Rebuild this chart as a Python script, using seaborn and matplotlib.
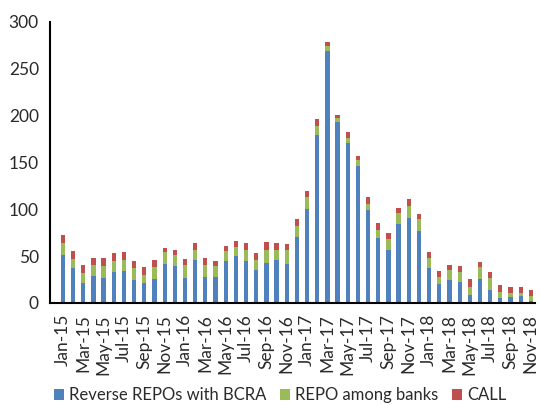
import numpy as np
import pandas as pd
import matplotlib
matplotlib.use("Agg")
import matplotlib.pyplot as plt
from matplotlib.patches import Patch
import seaborn as sns

months = ["Jan-15", "Feb-15", "Mar-15", "Apr-15", "May-15", "Jun-15", "Jul-15", "Aug-15",
          "Sep-15", "Oct-15", "Nov-15", "Dec-15",
          "Jan-16", "Feb-16", "Mar-16", "Apr-16", "May-16", "Jun-16", "Jul-16", "Aug-16",
          "Sep-16", "Oct-16", "Nov-16", "Dec-16",
          "Jan-17", "Feb-17", "Mar-17", "Apr-17", "May-17", "Jun-17", "Jul-17", "Aug-17",
          "Sep-17", "Oct-17", "Nov-17", "Dec-17",
          "Jan-18", "Feb-18", "Mar-18", "Apr-18", "May-18", "Jun-18", "Jul-18", "Aug-18",
          "Sep-18", "Oct-18", "Nov-18"]

reverse_repo_bcra = [51, 37, 21, 29, 27, 33, 34, 25, 21, 26, 42, 39,
                     27, 46, 28, 28, 45, 50, 45, 35, 43, 46, 42, 70,
                     100, 179, 269, 193, 171, 146, 99, 69, 56, 84, 91, 77,
                     37.5, 20, 25, 22.5, 8, 26, 14, 5, 6, 7, 2.5]
repo_among_banks = [13, 10, 11, 11, 12, 12, 12, 12, 9, 12, 12, 12,
                    13, 11, 12, 11, 10, 10, 12, 11, 14, 11, 14, 12,
                    13, 10, 5, 4, 5, 7, 7, 9, 12, 12, 13, 13,
                    11, 8, 10, 10, 9, 12, 13, 7, 5, 4, 5]
call = [9, 8, 8, 8, 9, 8, 8, 7.5, 8, 8, 5, 6,
        6.5, 7, 8, 6, 6, 6, 7, 7, 8, 7, 7, 8,
        6, 7, 4, 4, 6, 4, 7, 7, 7, 5, 7, 5,
        6, 6, 5, 7, 9, 6, 6, 7, 6, 6, 6]

series_names = ["Reverse REPOs with BCRA", "REPO among banks", "CALL"]
colors = ["#4F81BD", "#9BBB59", "#C0504D"]

df = pd.DataFrame({"month": months, "blue": reverse_repo_bcra,
                   "green": repo_among_banks, "red": call})
df["bg"] = df["blue"] + df["green"]
df["total"] = df["bg"] + df["red"]

sns.set_style("white")
plt.rcParams["font.family"] = ["Lato", "DejaVu Sans"]
text_color = "#2a2a2a"

fig = plt.figure(figsize=(5.4, 4.05), dpi=100)
ax = fig.add_axes([0.0926, 0.252, 0.898, 0.694])

for col, c in zip(["total", "bg", "blue"], [colors[2], colors[1], colors[0]]):
    sns.barplot(data=df, x="month", y=col, color=c, width=0.42, saturation=1,
                errorbar=None, ax=ax, linewidth=0)

ax.set_xlim(-1.27, 46.4)
ax.set_ylim(0, 300)
ax.set_yticks(np.arange(0, 301, 50))
ax.set_xlabel("")
ax.set_ylabel("")

pos = np.arange(len(months))
ax.set_xticks(pos[::2])
ax.set_xticklabels(months[::2], rotation=90, fontsize=12.5, color=text_color)
ax.set_xticks(np.arange(1.5, len(months), 2), minor=True)
ax.tick_params(axis="x", which="major", length=0, pad=8)
ax.tick_params(axis="x", which="minor", direction="in", length=4, width=1.5, color="black")
ax.tick_params(axis="y", direction="in", length=4, width=1.2, color="black",
               labelsize=12.5, labelcolor=text_color, pad=8)

for s in ["top", "right"]:
    ax.spines[s].set_visible(False)
for s in ["left", "bottom"]:
    ax.spines[s].set_color("black")
    ax.spines[s].set_linewidth(1.5)

handles = [Patch(facecolor=c, edgecolor="none") for c in colors]
fig.legend(handles, series_names, loc="center", bbox_to_anchor=(0.519, 0.024),
           ncol=3, frameon=False, fontsize=12, handlelength=0.6, handleheight=0.6,
           handletextpad=0.3, columnspacing=0.8, labelcolor=text_color,
           borderpad=0, borderaxespad=0)

fig.savefig("out.png", dpi=100)
